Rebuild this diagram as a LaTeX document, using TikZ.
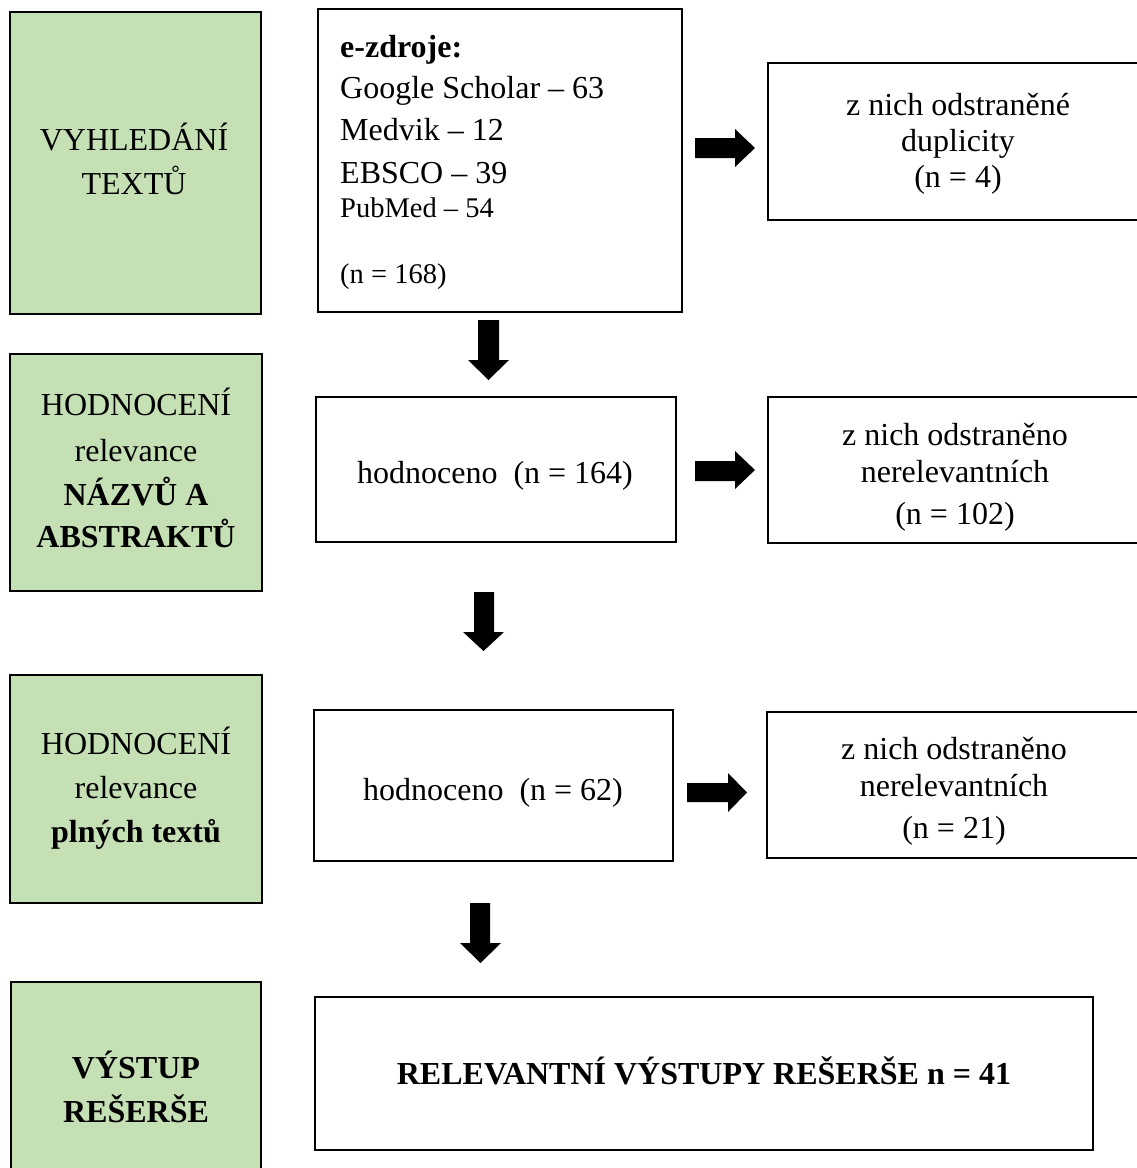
\documentclass[tikz,border=0pt]{standalone}
\usepackage{fontspec}
\setmainfont{Liberation Serif}
\definecolor{stagegreen}{HTML}{C5E0B4}
\begin{document}
\begin{tikzpicture}[x=1pt,y=-1pt,
  stagebox/.style={draw=black, line width=2pt, fill=stagegreen, inner sep=0pt, outer sep=0pt},
  plainbox/.style={draw=black, line width=2pt, fill=white, inner sep=0pt, outer sep=0pt},
  txt/.style={font=\fontsize{32}{38}\selectfont, inner sep=0pt, anchor=base},
  btxt/.style={font=\fontsize{32}{38}\selectfont\bfseries, inner sep=0pt, anchor=base},
  ltxt/.style={font=\fontsize{32}{38}\selectfont, inner sep=0pt, anchor=base west},
  stxt/.style={font=\fontsize{28.5}{34}\selectfont, inner sep=0pt, anchor=base west},
  blockarrow/.style={fill=black, draw=none}
]
\useasboundingbox[fill=white] (0,0) rectangle (1136,1168);

% boxes
\node[stagebox, minimum width=251pt, minimum height=302pt] (g1) at (135.5,163) {};
\node[stagebox, minimum width=252pt, minimum height=237pt] (g2) at (136,472.5) {};
\node[stagebox, minimum width=252pt, minimum height=228pt] (g3) at (136,789) {};
\node[stagebox, minimum width=250pt, minimum height=208pt] (g4) at (136,1086) {};

\node[plainbox, minimum width=364pt, minimum height=303pt] (src) at (500,160.5) {};
\node[plainbox, minimum width=360pt, minimum height=145pt] (h1) at (496,469.5) {};
\node[plainbox, minimum width=359pt, minimum height=151pt] (h2) at (493.5,785.5) {};
\node[plainbox, minimum width=778pt, minimum height=153pt] (fin) at (704,1073.5) {};

\node[plainbox, minimum width=392pt, minimum height=157pt] (r1) at (964,141.5) {};
\node[plainbox, minimum width=392pt, minimum height=146pt] (r2) at (964,470) {};
\node[plainbox, minimum width=393pt, minimum height=146pt] (r3) at (963.5,785) {};

% stage labels
\node[txt] (g1a) at (134,150) {VYHLEDÁNÍ};
\node[txt] (g1b) at (134,194) {TEXTŮ};
\node[txt] (g2a) at (136,415) {HODNOCENÍ};
\node[txt] (g2b) at (136,461) {relevance};
\node[btxt] (g2c) at (136,505) {NÁZVŮ A};
\node[btxt] (g2d) at (136,547) {ABSTRAKTŮ};
\node[txt] (g3a) at (136,754) {HODNOCENÍ};
\node[txt] (g3b) at (136,798) {relevance};
\node[btxt] (g3c) at (136,842) {plných textů};
\node[btxt] (g4a) at (136,1078) {VÝSTUP};
\node[btxt] (g4b) at (136,1122) {REŠERŠE};

% sources
\node[ltxt, font=\fontsize{32}{38}\selectfont\bfseries] (s0) at (340,57) {e-zdroje:};
\node[ltxt] (s1) at (340,98) {Google Scholar – 63};
\node[ltxt] (s2) at (340,140) {Medvik – 12};
\node[ltxt] (s3) at (340,183) {EBSCO – 39};
\node[stxt] (s4) at (340,217) {PubMed – 54};
\node[stxt] (s5) at (340,283) {(n = 168)};

% middle boxes
\node[txt] (h1t) at (495,483) {hodnoceno~~(n = 164)};
\node[txt] (h2t) at (493,800) {hodnoceno~~(n = 62)};
\node[btxt] (fint) at (704,1084) {RELEVANTNÍ VÝSTUPY REŠERŠE n = 41};

% right boxes
\node[txt] (r1a) at (958,115) {z nich odstraněné};
\node[txt] (r1b) at (958,151) {duplicity};
\node[txt] (r1c) at (958,187) {(n = 4)};
\node[txt] (r2a) at (955,445) {z nich odstraněno};
\node[txt] (r2b) at (955,482) {nerelevantních};
\node[txt] (r2c) at (955,524) {(n = 102)};
\node[txt] (r3a) at (954,759) {z nich odstraněno};
\node[txt] (r3b) at (954,796) {nerelevantních};
\node[txt] (r3c) at (954,838) {(n = 21)};

% block arrows (right)
\fill[blockarrow] (695,138) -- (735,138) -- (735,129) -- (755,148) -- (735,167) -- (735,158) -- (695,158) -- cycle;
\fill[blockarrow] (695,461) -- (735,461) -- (735,451) -- (755,470) -- (735,489) -- (735,481) -- (695,481) -- cycle;
\fill[blockarrow] (687,783) -- (728,783) -- (728,773) -- (747,792.5) -- (728,812) -- (728,802) -- (687,802) -- cycle;

% block arrows (down)
\fill[blockarrow] (478,320) -- (499,320) -- (499,360) -- (509,360) -- (488.5,380) -- (468,360) -- (478,360) -- cycle;
\fill[blockarrow] (474,592) -- (494,592) -- (494,632) -- (504,632) -- (483.5,651) -- (463,632) -- (474,632) -- cycle;
\fill[blockarrow] (470,903) -- (490,903) -- (490,943) -- (501,943) -- (480.5,963) -- (460,943) -- (470,943) -- cycle;
\end{tikzpicture}
\end{document}
